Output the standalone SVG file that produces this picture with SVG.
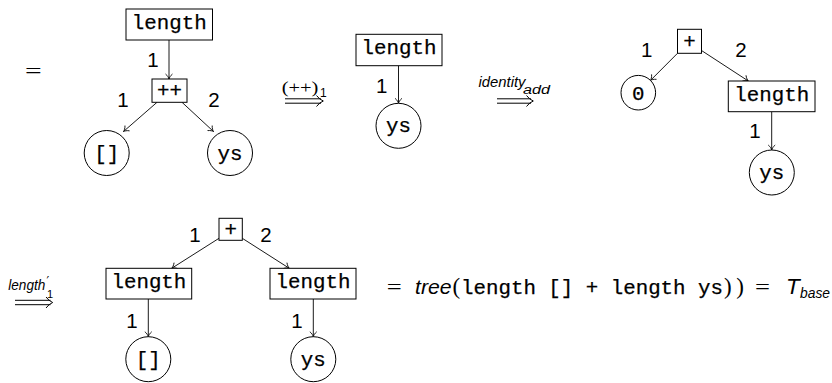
<svg xmlns="http://www.w3.org/2000/svg" width="832" height="383" viewBox="0 0 832 383">
<defs>
<style>
.bx{fill:#fff;stroke:#000;stroke-width:1}
.cr{fill:#fff;stroke:#000;stroke-width:1}
.tt{font-family:"Liberation Mono","DejaVu Sans Mono",monospace;font-size:20.8px;fill:#000;stroke:#000;stroke-width:0.25;text-anchor:middle}
.num{font-family:"Liberation Sans","DejaVu Sans",sans-serif;font-size:20.5px;fill:#000;text-anchor:middle}
.ed{fill:none;stroke:#000;stroke-width:0.9;marker-end:url(#tip)}
.dbl{fill:none;stroke:#000;stroke-width:1}
.ms{font-family:"Liberation Serif","DejaVu Serif",serif;fill:#000}
.si{font-family:"Liberation Sans","DejaVu Sans",sans-serif;font-style:italic;fill:#000}
.ss{font-family:"Liberation Sans","DejaVu Sans",sans-serif;fill:#000}
</style>
<marker id="tip" viewBox="-6 -4 7 8" refX="0" refY="0" markerWidth="7" markerHeight="8" markerUnits="userSpaceOnUse" orient="auto">
<path d="M-5,-3.5 C-3.3,-1.3 -1.1,-0.3 0,0 C-1.1,0.3 -3.3,1.3 -5,3.5" fill="none" stroke="#000" stroke-width="0.85"/>
</marker>
</defs>
<rect width="832" height="383" fill="#fff"/>

<g id="connectors">
<path class="ed" d="M169,40 L169,79"/>
<path class="ed" d="M157,102.3 L123.5,131.5"/>
<path class="ed" d="M182,102.3 L213.5,131.5"/>
<path class="ed" d="M398.5,65.7 L398.5,103.3"/>
<path class="ed" d="M677.5,53.3 L650.5,80.4"/>
<path class="ed" d="M701.5,50.5 L748.3,81"/>
<path class="ed" d="M771.7,111.7 L771.7,150"/>
<path class="ed" d="M219,238.3 L171.7,268.3"/>
<path class="ed" d="M242.3,238.3 L289.3,268.3"/>
<path class="ed" d="M148.3,299 L148.3,336.7"/>
<path class="ed" d="M313.3,299 L313.3,336.7"/>
</g>

<g id="rewrite-arrows">
<path class="dbl" d="M285,98.8 L321,98.8 M285,103.2 L321,103.2 M316.5,95.5 Q319.5,99.5 323.3,101 Q319.5,102.5 316.5,106.5"/>
<path class="dbl" d="M497,98.8 L531,98.8 M497,103.2 L531,103.2 M526.5,95.5 Q529.5,99.5 533.3,101 Q529.5,102.5 526.5,106.5"/>
<path class="dbl" d="M15,300.3 L50.5,300.3 M15,304.7 L50.5,304.7 M46,297 Q49,301 52.7,302.5 Q49,304 46,308"/>
</g>

<g id="labels">
<text class="ms" x="25" y="78" font-size="22" textLength="16.7" lengthAdjust="spacingAndGlyphs">=</text>
<text class="ms" x="281.7" y="93" font-size="17" textLength="36.7" lengthAdjust="spacingAndGlyphs">(++)</text>
<text class="ss" x="320" y="96.5" font-size="12">1</text>
<text class="si" x="478.5" y="87" font-size="15" textLength="47" lengthAdjust="spacingAndGlyphs">identity</text>
<text class="si" x="523" y="93.5" font-size="12" textLength="27" lengthAdjust="spacingAndGlyphs">add</text>
<text class="si" x="8.3" y="290" font-size="14.5" textLength="37" lengthAdjust="spacingAndGlyphs">length</text>
<text x="46.5" y="285" font-family="DejaVu Sans, sans-serif" font-size="12" fill="#000">′</text>
<text class="ss" x="47" y="297.5" font-size="11">1</text>
</g>

<g id="edge-labels" class="num">
<text x="153" y="66.7">1</text>
<text x="123" y="106.7">1</text>
<text x="214" y="106.7">2</text>
<text x="381.7" y="93">1</text>
<text x="646.7" y="56.7">1</text>
<text x="741" y="56.7">2</text>
<text x="755" y="138">1</text>
<text x="195" y="241.7">1</text>
<text x="266" y="241.7">2</text>
<text x="132" y="328">1</text>
<text x="297" y="328">1</text>
</g>

<g id="t1-length"><rect class="bx" x="126" y="9" width="86.5" height="31"/><text class="tt" x="169.2" y="29">length</text></g>
<g id="t1-concat"><rect class="bx" x="152" y="79" width="35" height="23.3"/><text class="tt" x="169.5" y="96.5">++</text></g>
<g id="t1-nil"><circle class="cr" cx="106.7" cy="153" r="22.5"/><text class="tt" x="106.7" y="159.5">[]</text></g>
<g id="t1-ys"><circle class="cr" cx="230" cy="153" r="22.5"/><text class="tt" x="230" y="159.5">ys</text></g>

<g id="t2-length"><rect class="bx" x="356" y="34.3" width="86" height="31.4"/><text class="tt" x="399" y="54.3">length</text></g>
<g id="t2-ys"><circle class="cr" cx="398.5" cy="125.8" r="22.5"/><text class="tt" x="398.5" y="132.3">ys</text></g>

<g id="t3-plus"><rect class="bx" x="677.5" y="29.3" width="24" height="24"/><text class="tt" x="689.5" y="48">+</text></g>
<g id="t3-zero"><circle class="cr" cx="638.3" cy="92.7" r="17.3"/><text class="tt" x="638.3" y="99.5">0</text></g>
<g id="t3-length"><rect class="bx" x="728.3" y="81" width="86.7" height="30.7"/><text class="tt" x="771.7" y="101">length</text></g>
<g id="t3-ys"><circle class="cr" cx="771.8" cy="172.5" r="22.5"/><text class="tt" x="771.8" y="179">ys</text></g>

<g id="t4-plus"><rect class="bx" x="219" y="218.3" width="23.3" height="22"/><text class="tt" x="230.7" y="236">+</text></g>
<g id="t4-length-l"><rect class="bx" x="106" y="268.3" width="85.7" height="30.7"/><text class="tt" x="148.9" y="288.3">length</text></g>
<g id="t4-length-r"><rect class="bx" x="270" y="268.3" width="86" height="30.7"/><text class="tt" x="313" y="288.3">length</text></g>
<g id="t4-nil"><circle class="cr" cx="148.3" cy="359.2" r="22.5"/><text class="tt" x="148.3" y="365.7">[]</text></g>
<g id="t4-ys"><circle class="cr" cx="313.3" cy="359.2" r="22.5"/><text class="tt" x="313.3" y="365.7">ys</text></g>

<g id="equation">
<text class="ms" x="386.7" y="294" font-size="22" textLength="15" lengthAdjust="spacingAndGlyphs">=</text>
<text class="si" x="415" y="294" font-size="20.5" textLength="36.5" lengthAdjust="spacingAndGlyphs">tree</text>
<text class="ms" x="452.5" y="294" font-size="23">(</text>
<text class="tt" x="461" y="294" style="text-anchor:start" textLength="262" lengthAdjust="spacing">length [] + length ys</text>
<text class="ms" x="724" y="294" font-size="23" textLength="20" lengthAdjust="spacing">))</text>
<text class="ms" x="755" y="294" font-size="22" textLength="15" lengthAdjust="spacingAndGlyphs">=</text>
<text class="si" x="786" y="294" font-size="22.5">T</text>
<text class="si" x="800" y="297.5" font-size="15" textLength="30" lengthAdjust="spacingAndGlyphs">base</text>
</g>
</svg>
